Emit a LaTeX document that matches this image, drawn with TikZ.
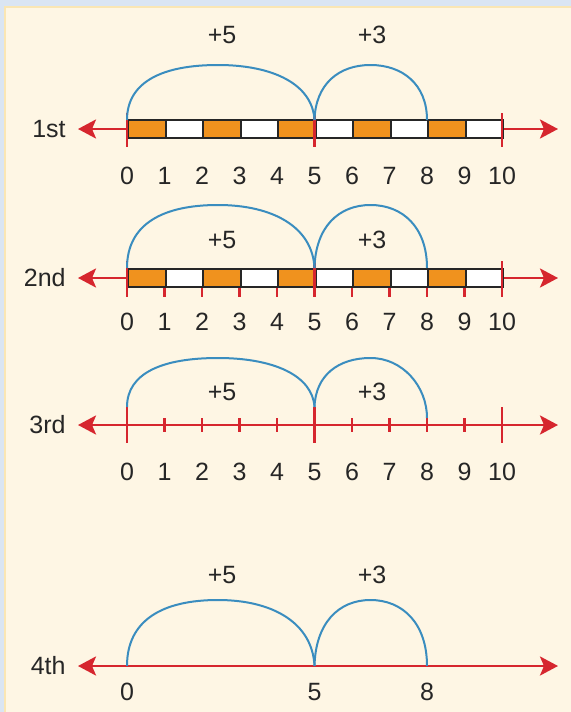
\documentclass[tikz,border=0pt]{standalone}
\usepackage{fontspec}
\setmainfont{Liberation Sans}
\usepackage{xcolor}
\usetikzlibrary{positioning, arrows.meta}
\definecolor{frameblue}{HTML}{DAE5F3}
\definecolor{paper}{HTML}{FEF6E4}
\definecolor{paperedge}{HTML}{FAE6B4}
\definecolor{linered}{HTML}{D6262E}
\definecolor{cellorange}{HTML}{F0921E}
\definecolor{hopblue}{HTML}{3A8DBF}

\begin{document}
\begin{tikzpicture}[
    x=0.5pt, y=-0.5pt,
    font=\fontsize{12.5}{14}\selectfont,
    numline/.style={{Stealth[length=9pt,width=9.5pt,inset=2pt]}-{Stealth[length=9pt,width=9.5pt,inset=2pt]}, draw=linered, line width=1.4pt},
    cell/.style={draw=black!85, line width=1.1pt, minimum width=18.75pt, minimum height=9pt, inner sep=0pt, anchor=west},
    tick/.style={draw=linered, line width=1.1pt},
    hop/.style={draw=hopblue, line width=1pt},
    num/.style={inner sep=0pt, text=black!85},
    rowlabel/.style={inner sep=0pt, text=black!85}
]
% Background
\useasboundingbox (0,0) rectangle (571,712);
\fill[frameblue] (0,0) rectangle (571,712);
\filldraw[fill=paper, draw=paperedge, line width=1pt] (5,7) rectangle (580,720);

% Lines and points
\foreach \r/\ly in {1/129, 2/278, 3/425, 4/666} {
    \coordinate (L\r) at (78,\ly);
    \coordinate (R\r) at (558,\ly);
    \foreach \k in {0,...,10}
        \coordinate (p\r-\k) at ({127+37.5*\k},\ly);
    \draw[numline] (L\r) -- (R\r);
}
\foreach \r/\t in {1/1st, 2/2nd, 3/3rd, 4/4th}
    \node[rowlabel, left=6pt of L\r] (lab\r) {\t};

% Bars
\foreach \r in {1,2}
    \foreach \k/\c in {0/cellorange, 1/white, 2/cellorange, 3/white, 4/cellorange,
                       5/white, 6/cellorange, 7/white, 8/cellorange, 9/white}
        \node[cell, fill=\c] (c\r-\k) at (p\r-\k) {};

% Ticks
\foreach \k in {0,5,10}
    \draw[tick] ([yshift=8pt]p1-\k) -- ([yshift=-9pt]p1-\k);
\foreach \k in {1,2,3,4,6,7,8,9}
    \draw[tick] (c2-0.south -| p2-\k) -- ([yshift=-9.5pt]p2-\k);
\foreach \k in {0,5,10}
    \draw[tick] ([yshift=8.5pt]p2-\k) -- ([yshift=-9.5pt]p2-\k);
\foreach \k in {1,2,3,4,6,7,8,9}
    \draw[tick] ([yshift=3.5pt]p3-\k) -- ([yshift=-3.5pt]p3-\k);
\foreach \k in {0,5,10}
    \draw[tick] ([yshift=9pt]p3-\k) -- ([yshift=-9pt]p3-\k);

% Numbers
\foreach \r/\g in {1/19pt, 2/17.5pt, 3/19pt}
    \foreach \k in {0,...,10}
        \node[num, below=\g of p\r-\k] (n\r-\k) {\k};
\foreach \k in {0,5,8}
    \node[num, below=8.5pt of p4-\k] (n4-\k) {\k};

% Jumps
\foreach \r/\s/\e in {1/4.5pt/4.5pt, 2/5pt/5pt, 3/9pt/3.5pt, 4/0pt/0pt} {
    \coordinate (b\r-0) at ([yshift=\s]p\r-0);
    \coordinate (b\r-5) at ([yshift=\s]p\r-5);
    \coordinate (b\r-8) at ([yshift=\e]p\r-8);
}
\foreach \r/\h in {1/55, 2/63, 3/49, 4/66} {
    \draw[hop] (b\r-0) .. controls +(0,-0.7*\h) and +(-55,0) .. ++(91,-\h)
               .. controls +(55,0) and +(-2,-0.65*\h) .. (b\r-5);
    \draw[hop] (b\r-5) .. controls +(1,-0.65*\h) and +(-32,0) .. ++(56,-\h)
               .. controls +(32,0) and +(0,-0.65*\h) .. (b\r-8);
}
\foreach \r/\ly in {1/35, 2/240, 3/392, 4/575} {
    \node[num] (five\r) at (222,\ly) {+5};
    \node[num] (three\r) at (372,\ly) {+3};
}
\end{tikzpicture}
\end{document}
